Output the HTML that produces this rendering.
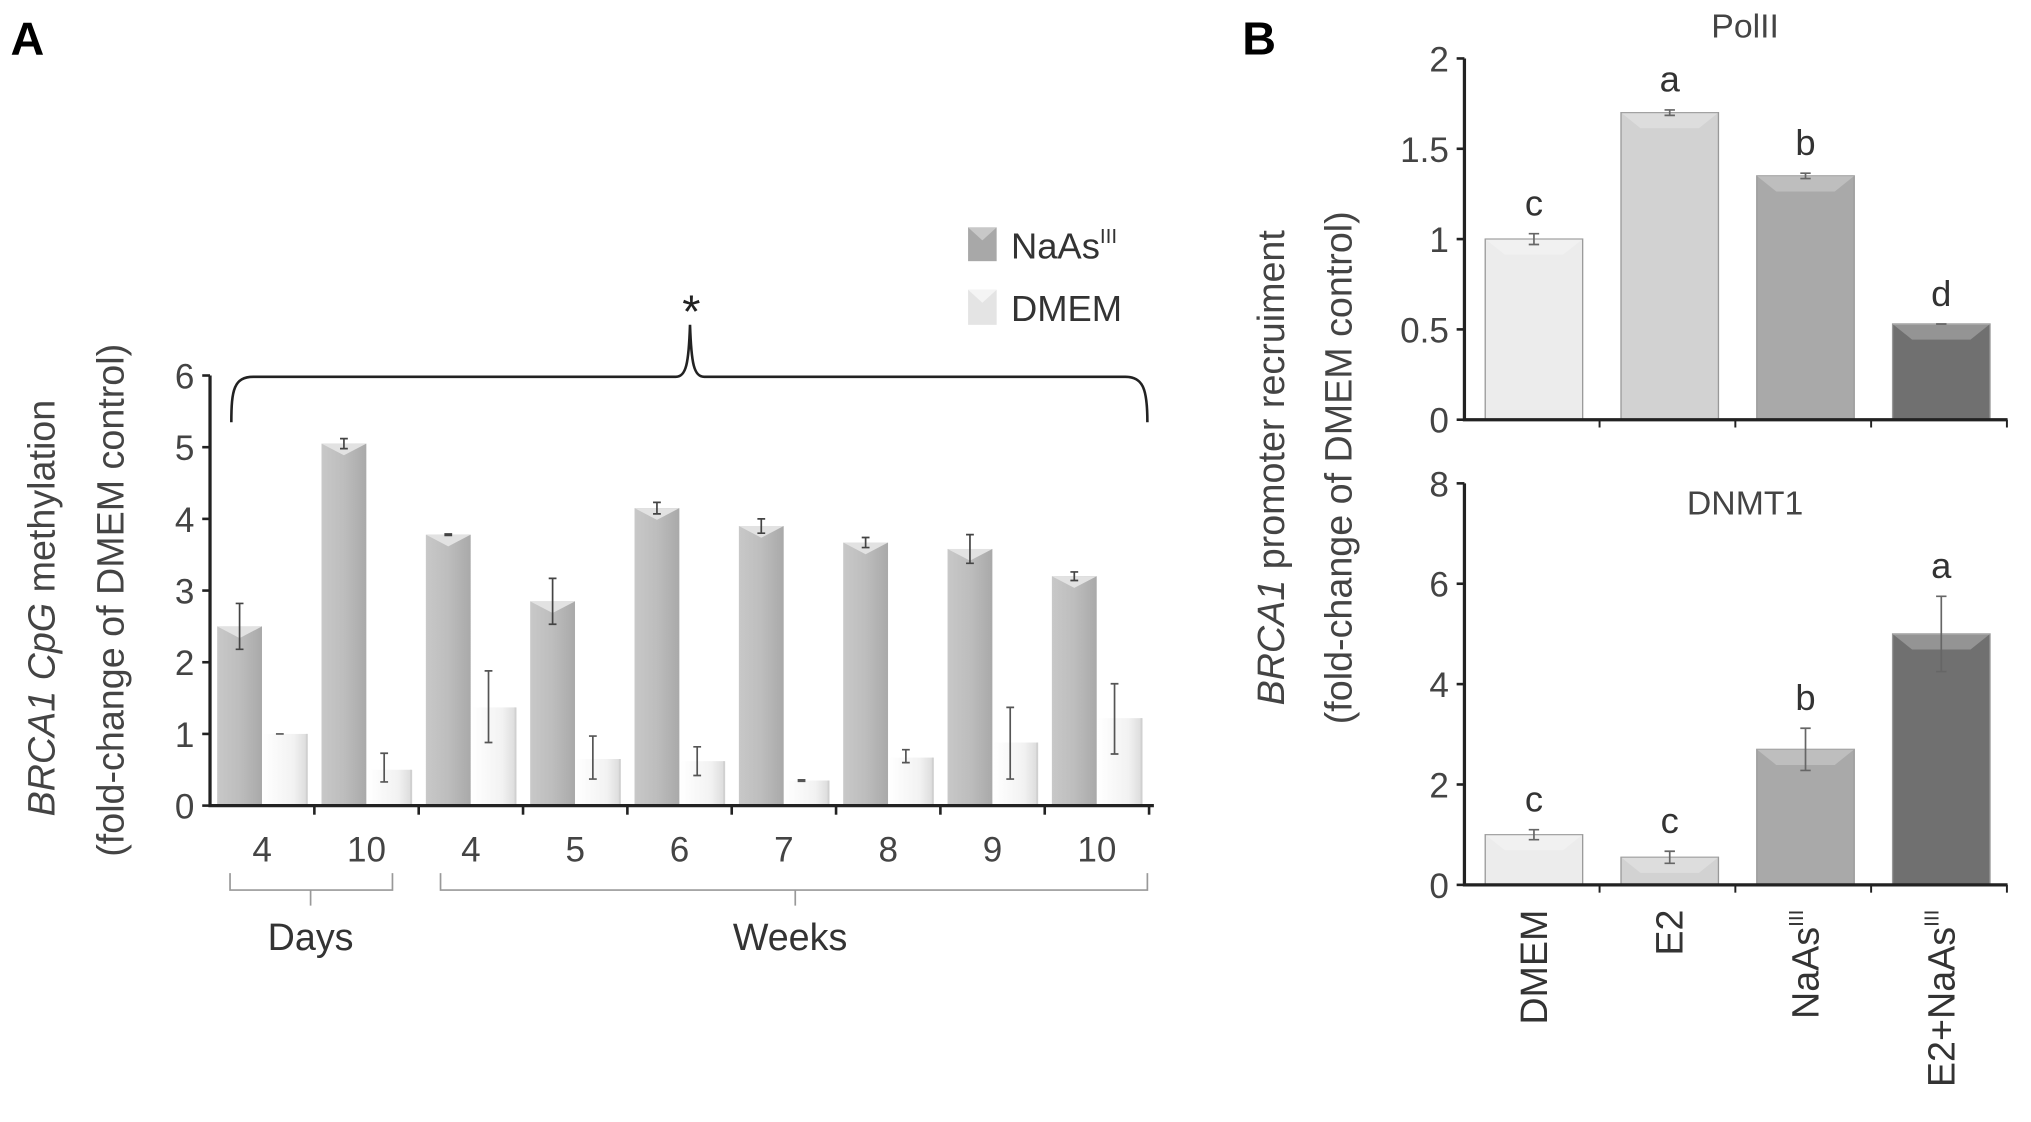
<!DOCTYPE html>
<html><head><meta charset="utf-8"><style>
html,body{margin:0;padding:0;background:#fff;}
svg{display:block;font-family:"Liberation Sans",sans-serif;}
</style></head><body>
<svg id="fig" width="2031" height="1122" viewBox="0 0 1563 863.5" xmlns="http://www.w3.org/2000/svg">
<defs>
<linearGradient id="gN" x1="0" x2="1"><stop offset="0" stop-color="#c8c8c8"/><stop offset="0.5" stop-color="#bdbdbd"/><stop offset="1" stop-color="#a9a9a9"/></linearGradient>
<linearGradient id="gD" x1="0" x2="1"><stop offset="0" stop-color="#ffffff"/><stop offset="0.7" stop-color="#f2f2f2"/><stop offset="1" stop-color="#dcdcdc"/></linearGradient>
</defs>
<text x="8" y="42" font-size="36" font-weight="bold">A</text>
<text x="956" y="42" font-size="36" font-weight="bold">B</text>
<g id="A"></g>
<g id="B1"></g>
<g id="B2"></g>
</svg>
<script>
const groupLabels=["4","10","4","5","6","7","8","9","10"];
const naasVals=[2.5,5.05,3.78,2.85,4.15,3.9,3.67,3.58,3.2];
const naasErr=[0.32,0.07,0.01,0.32,0.08,0.1,0.07,0.2,0.06];
const dmemVals=[1.0,0.5,1.37,0.65,0.62,0.35,0.67,0.88,1.22];
const dmemErrCenter=[1.0,0.53,1.38,0.67,0.62,0.35,0.69,0.87,1.21];
const dmemErr=[0.0,0.2,0.5,0.3,0.2,0.01,0.09,0.5,0.49];
const aTicks=[0,1,2,3,4,5,6];
const bCats=["DMEM","E2","NaAs","E2+NaAs"];
const polVals=[1.0,1.7,1.35,0.53];
const polErr=[0.03,0.015,0.015,0.0];
const polLetters=["c","a","b","d"];
const polTicks=["0","0.5","1","1.5","2"];
const dnmtVals=[1.0,0.55,2.7,5.0];
const dnmtErr=[0.1,0.12,0.42,0.75];
const dnmtLetters=["c","c","b","a"];
const dnmtTicks=[0,2,4,6,8];
const bColors=["#ececec","#d2d2d2","#a9a9a9","#707070"];

const NS="http://www.w3.org/2000/svg";
function mk(p,t,a,txt){const e=document.createElementNS(NS,t);for(const k in a)e.setAttribute(k,a[k]);if(txt!==undefined)e.textContent=txt;p.appendChild(e);return e;}
function errbar(g,x,y1,y2,w,c){mk(g,'path',{d:`M${x},${y1}V${y2}M${x-w},${y1}H${x+w}M${x-w},${y2}H${x+w}`,stroke:c,'stroke-width':1.3,fill:'none'});}

// Panel A
const A=document.getElementById('A');
const ax0=161.6, ax1=888, ay0=620, ay6=289, gw=80.3;
const yA=v=>ay0-(ay0-ay6)*v/6;
const xA=i=>ax0+gw*i;
aTicks.forEach(t=>{
  let l=mk(A,'line',{x1:ax0-6,x2:ax0,y1:yA(t),y2:yA(t),stroke:'#222','stroke-width':2});
  
  let tx=mk(A,'text',{x:ax0-12,y:yA(t)+10,'font-size':27,'text-anchor':'end',fill:'#444'},String(t));
  
});
naasVals.forEach((v,i)=>{
  const x=xA(i)+5.5, w=34.5;
  let r=mk(A,'rect',{x:x,y:yA(v),width:w,height:ay0-yA(v),fill:'url(#gN)'});
  
  mk(A,'path',{d:`M${x},${yA(v)}L${x+w/2},${yA(v)+9}L${x+w},${yA(v)}Z`,fill:'#e2e2e2'});
  errbar(A,x+w/2,yA(v-naasErr[i]),yA(v+naasErr[i]),3,'#444');
});
dmemVals.forEach((v,i)=>{
  const x=xA(i)+41, w=33.5;
  let r=mk(A,'rect',{x:x,y:yA(v),width:w,height:ay0-yA(v),fill:'url(#gD)'});
  
  mk(A,'line',{x1:x+w,x2:x+w,y1:yA(v),y2:ay0,stroke:'#d0d0d0','stroke-width':1.5});
  errbar(A,x+w*0.38,yA(dmemErrCenter[i]-dmemErr[i]),yA(dmemErrCenter[i]+dmemErr[i]),3,'#555');
});
mk(A,'path',{d:`M${ax0},${ay6}V${ay0}H${ax1}`,stroke:'#222','stroke-width':2.5,fill:'none'});
groupLabels.forEach((s,i)=>{
  mk(A,'line',{x1:xA(i+1),x2:xA(i+1),y1:ay0,y2:ay0+7,stroke:'#222','stroke-width':2});
  let t=mk(A,'text',{x:xA(i)+gw/2,y:663,'font-size':27,'text-anchor':'middle',fill:'#444'},s);
  
});
mk(A,'path',{d:'M177,672V685H302V672M239,685V697',stroke:'#999','stroke-width':1.3,fill:'none'});
mk(A,'path',{d:'M339,672V685H883V672M612,685V697',stroke:'#999','stroke-width':1.3,fill:'none'});
let dl=mk(A,'text',{x:239,y:731,'font-size':29,'text-anchor':'middle',fill:'#333'},'Days');
let wl=mk(A,'text',{x:608,y:731,'font-size':29,'text-anchor':'middle',fill:'#333'},'Weeks');
mk(A,'path',{d:'M178,325C178,300 180,290 195,290H520C528,290 530,280 531,250C532,280 534,290 542,290H866C880,290 883,300 883,325',stroke:'#222','stroke-width':2,fill:'none'});
mk(A,'text',{x:532,y:252,'font-size':36,'text-anchor':'middle',fill:'#222'},'*');
let yt=mk(A,'text',{transform:'translate(42,468) rotate(-90)','font-size':29,'text-anchor':'middle',fill:'#444'});

mk(yt,'tspan',{'font-style':'italic'},'BRCA1 CpG');mk(yt,'tspan',{},' methylation');
mk(A,'text',{transform:'translate(95,462) rotate(-90)','font-size':29,'text-anchor':'middle',fill:'#444'},'(fold-change of DMEM control)');
// legend
const lg=mk(A,'g',{});
mk(lg,'rect',{x:745,y:175,width:22,height:26,fill:'#a8a8a8'});
mk(lg,'path',{d:'M745,175L756,185L767,175Z',fill:'#c8c8c8'});
let lt1=mk(lg,'text',{x:778,y:199,'font-size':28,fill:'#333'},'NaAs');mk(lt1,'tspan',{'font-size':16,dy:-12},'III');
mk(lg,'rect',{x:745,y:223,width:22,height:27,fill:'#e4e4e4'});
mk(lg,'path',{d:'M745,223L756,233L767,223Z',fill:'#f4f4f4'});
mk(lg,'text',{x:778,y:247,'font-size':28,fill:'#333'},'DMEM');

// Panel B
function panelB(g,vals,errs,letters,ticks,ymax,y0,ytop,title,titleY,showCats){
  const x0=1127,x1=1545,bw=75,step=104.5;
  const y=v=>y0-(y0-ytop)*v/ymax;
  const xb=i=>x0+16+step*i;
  ticks.forEach(t=>{
    mk(g,'line',{x1:x0-6,x2:x0,y1:y(+t),y2:y(+t),stroke:'#222','stroke-width':2});
    let tx=mk(g,'text',{x:x0-12,y:y(+t)+10,'font-size':27,'text-anchor':'end',fill:'#444'},String(t));
    
  });
  vals.forEach((v,i)=>{
    let r=mk(g,'rect',{x:xb(i),y:y(v),width:bw,height:y0-y(v),fill:bColors[i],stroke:'#999','stroke-width':1});
    
    mk(g,'path',{d:`M${xb(i)},${y(v)}L${xb(i)+bw*0.2},${y(v)+12}H${xb(i)+bw*0.8}L${xb(i)+bw},${y(v)}Z`,fill:'#fff','fill-opacity':0.25});
    errbar(g,xb(i)+bw/2,y(v-errs[i]),y(v+errs[i]),4,'#666');
    let lt=mk(g,'text',{x:xb(i)+bw/2,y:y(v+errs[i])-14,'font-size':28,'text-anchor':'middle',fill:'#333'},letters[i]);
    
    mk(g,'line',{x1:xb(i)+bw+13,x2:xb(i)+bw+13,y1:y0,y2:y0+6,stroke:'#222','stroke-width':1.5});
  });
  mk(g,'path',{d:`M${x0},${ytop}V${y0}H${x1}`,stroke:'#222','stroke-width':2.5,fill:'none'});
  let tt=mk(g,'text',{x:1343,y:titleY,'font-size':26,'text-anchor':'middle',fill:'#444'},title);
  
  if(showCats){
    bCats.forEach((c,i)=>{
      let t=mk(g,'text',{transform:`translate(${xb(i)+bw/2+10},700) rotate(-90)`,'font-size':29,'text-anchor':'end',fill:'#333'},c);
      
      if(c.indexOf('NaAs')>=0) mk(t,'tspan',{'font-size':16,dy:-12},'III');
    });
  }
}
panelB(document.getElementById('B1'),polVals,polErr,polLetters,polTicks,2,323,45,'PolII',29,false);
panelB(document.getElementById('B2'),dnmtVals,dnmtErr,dnmtLetters,dnmtTicks,8,681,372,'DNMT1',396,true);
const B=document.getElementById('B1');
let bt=mk(B,'text',{transform:'translate(988,360) rotate(-90)','font-size':29,'text-anchor':'middle',fill:'#444'});

mk(bt,'tspan',{'font-style':'italic'},'BRCA1');mk(bt,'tspan',{},' promoter recruiment');
mk(B,'text',{transform:'translate(1040,360) rotate(-90)','font-size':29,'text-anchor':'middle',fill:'#444'},'(fold-change of DMEM control)');
</script>
</body></html>
